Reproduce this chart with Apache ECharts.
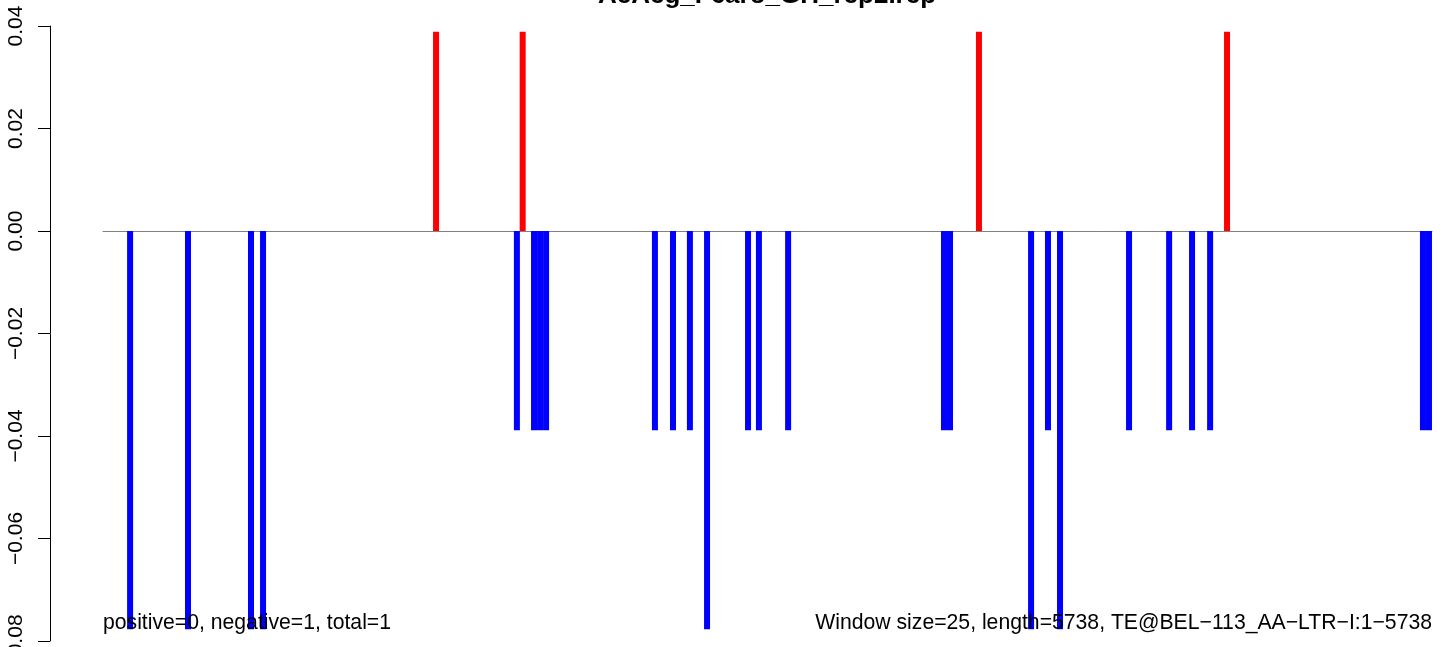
<!DOCTYPE html>
<html>
<head>
<meta charset="utf-8">
<script src="https://cdn.jsdelivr.net/npm/echarts@6/dist/echarts.min.js"></script>
<style>
html,body{margin:0;padding:0;background:#fff;}
#chart{width:1452px;height:647px;}
</style>
</head>
<body>
<div id="chart"></div>
<script>
// ---- data ----
const titleText = 'AeAeg_F6aro_GH_rep2.rep';
const seqLength = 5738;
const positions = [117, 367, 639, 691, 1438, 1787, 1812, 1861, 1887, 1913,
  2383, 2461, 2534, 2608, 2785, 2832, 2958, 3631, 3657, 3782,
  4007, 4080, 4132, 4430, 4603, 4702, 4780, 4853, 5699, 5725];
const values = [-0.0777, -0.0777, -0.0777, -0.0777, 0.0389, -0.0389, 0.0389, -0.0389, -0.0389, -0.0389,
  -0.0389, -0.0389, -0.0389, -0.0777, -0.0389, -0.0389, -0.0389, -0.0389, -0.0389, 0.0389,
  -0.0777, -0.0389, -0.0777, -0.0389, -0.0389, -0.0389, -0.0389, 0.0389, -0.0389, -0.0389];
const yTicks = [-0.08, -0.06, -0.04, -0.02, 0.00, 0.02, 0.04];
const leftNote = 'positive=0, negative=1, total=1';
const rightNote = 'Window size=25, length=5738, TE@BEL\u2212113_AA\u2212LTR\u2212I:1\u22125738';

const FONT = '"Liberation Sans", Arial, Helvetica, sans-serif';
const chart = echarts.init(document.getElementById('chart'), null, {renderer: 'canvas'});

const barData = positions.map((p, i) => [p, values[i]]);

chart.setOption({
  animation: false,
  backgroundColor: '#ffffff',
  title: {
    text: titleText,
    left: 767,
    textAlign: 'center',
    top: -17,
    padding: 0,
    textStyle: {fontFamily: FONT, fontWeight: 'bold', fontSize: 26, color: '#000'}
  },
  grid: {left: 103, right: 20, top: 26, bottom: 6, containLabel: false, outerBoundsMode: 'none'},
  xAxis: {
    type: 'value',
    min: 0,
    max: seqLength,
    axisLine: {show: true, onZero: true, lineStyle: {color: '#808080', width: 1}},
    axisTick: {show: false},
    axisLabel: {show: false},
    splitLine: {show: false}
  },
  yAxis: {
    type: 'value',
    min: yTicks[0],
    max: yTicks[yTicks.length - 1],
    interval: 0.02,
    position: 'left',
    offset: 53,
    axisLine: {show: true, onZero: false, lineStyle: {color: '#000', width: 1}},
    axisTick: {show: true, inside: false, length: 12, lineStyle: {color: '#000', width: 1}},
    axisLabel: {
      show: true,
      rotate: 90,
      margin: 23,
      fontFamily: FONT,
      fontSize: 21,
      color: '#000',
      formatter: v => (v < -1e-9 ? '\u2212' : '') + Math.abs(v).toFixed(2)
    },
    splitLine: {show: false}
  },
  series: [{
    type: 'bar',
    data: barData,
    barWidth: 6,
    itemStyle: {
      color: p => (p.value[1] > 0 ? '#ff0000' : '#0000ff')
    },
    z: 1
  }],
  graphic: [
    {
      type: 'text',
      x: 103,
      y: 623,
      style: {text: leftNote, font: '21.2px ' + FONT, fill: '#000', align: 'left', verticalAlign: 'middle'},
      z: 10
    },
    {
      type: 'text',
      x: 1432,
      y: 623,
      style: {text: rightNote, font: '21.2px ' + FONT, fill: '#000', align: 'right', verticalAlign: 'middle'},
      z: 10
    }
  ]
});
</script>
</body>
</html>
